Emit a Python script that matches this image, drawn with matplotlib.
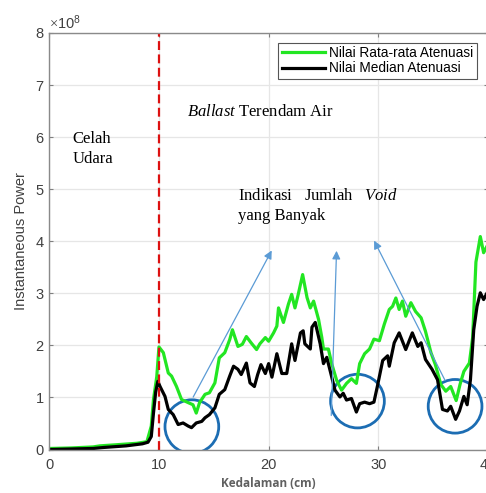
import numpy as np
import matplotlib
matplotlib.use("Agg")
import matplotlib.pyplot as plt
from matplotlib.patches import Ellipse
from matplotlib.ticker import ScalarFormatter

plt.rcParams['font.family'] = ['Liberation Sans', 'DejaVu Sans']
plt.rcParams['mathtext.fontset'] = 'custom'
plt.rcParams['mathtext.rm'] = 'Liberation Serif'
plt.rcParams['mathtext.it'] = 'Liberation Serif:italic'

SCALE = 1e8

# mean attenuation (x in cm, y in units of 1e8)
x_mean = [0, 2, 4, 4.6, 6, 8, 8.9, 9.3, 9.5, 9.8, 10.0, 10.4, 10.85, 11.15, 11.6,
          12.06, 12.67, 13.1, 13.4, 13.7, 14.2, 14.6, 15.1, 15.5, 16.0, 16.45,
          16.7, 17.2, 17.6, 17.97, 18.4, 18.9, 19.2, 19.7, 20.0, 20.45, 20.75,
          20.9, 21.35, 21.8, 22.1, 22.4, 22.7, 23.1, 23.5, 23.8, 24.1, 24.55,
          24.85, 25.0, 25.45, 25.75, 26.2, 26.65, 27.1, 27.55, 28.0, 28.3, 28.75,
          29.2, 29.6, 30.1, 30.55, 31.0, 31.3, 31.6, 31.9, 32.2, 32.5, 32.97,
          33.4, 33.9, 34.3, 34.8, 35.2, 35.7, 36.15, 36.6, 37.1, 37.45, 37.8,
          38.3, 38.6, 38.9, 39.3, 39.6, 39.9]
y_mean = [0.02, 0.03, 0.05, 0.07, 0.09, 0.12, 0.15, 0.45, 0.96, 1.40, 1.97, 1.86,
          1.47, 1.41, 1.21, 0.96, 0.90, 0.86, 0.70, 0.90, 1.06, 1.09, 1.28, 1.76,
          1.86, 2.11, 2.30, 1.98, 2.02, 2.17, 2.05, 1.92, 2.03, 2.15, 2.08, 2.24,
          2.37, 2.72, 2.44, 2.79, 2.98, 2.72, 2.98, 3.36, 2.92, 2.72, 2.85, 2.50,
          2.15, 1.93, 1.93, 1.65, 1.33, 1.14, 1.27, 1.36, 1.27, 1.65, 1.84, 1.93,
          2.12, 2.09, 2.41, 2.69, 2.75, 2.91, 2.69, 2.85, 2.56, 2.82, 2.65, 2.53,
          2.27, 1.86, 1.63, 1.25, 1.12, 1.21, 0.94, 1.25, 1.50, 1.66, 2.15, 3.60,
          4.09, 3.78, 3.90]

# median attenuation
x_med = [0, 2, 4, 5, 7, 8.5, 9.0, 9.3, 9.5, 9.7, 9.9, 10.1, 10.55, 10.85, 11.3,
         11.75, 12.2, 12.67, 12.97, 13.4, 13.9, 14.2, 14.6, 15.1, 15.5, 16.0,
         16.45, 16.8, 17.2, 17.5, 17.97, 18.3, 18.7, 19.0, 19.3, 19.7, 20.0,
         20.3, 20.75, 21.2, 21.65, 22.1, 22.4, 22.9, 23.15, 23.3, 23.8, 23.95,
         24.25, 24.7, 25.0, 25.3, 25.6, 26.05, 26.5, 26.8, 27.1, 27.55, 28.0,
         28.3, 28.75, 29.2, 29.6, 29.9, 30.4, 30.85, 31.0, 31.45, 31.9, 32.5,
         33.1, 33.6, 33.9, 34.3, 34.9, 35.4, 35.85, 36.3, 36.6, 37.05, 37.4,
         37.8, 38.1, 38.4, 38.7, 39.0, 39.3, 39.6, 39.9]
y_med = [0.0, 0.01, 0.02, 0.04, 0.07, 0.11, 0.14, 0.25, 0.70, 1.10, 1.31, 1.21,
         1.02, 0.77, 0.67, 0.48, 0.51, 0.45, 0.42, 0.51, 0.54, 0.61, 0.67, 0.80,
         1.06, 1.15, 1.41, 1.60, 1.54, 1.44, 1.66, 1.28, 1.21, 1.44, 1.63, 1.46,
         1.65, 1.39, 1.84, 1.46, 1.46, 2.03, 1.71, 2.24, 2.28, 2.03, 1.93, 2.35,
         2.44, 2.03, 1.65, 1.77, 1.52, 1.14, 1.01, 1.08, 0.95, 0.98, 0.72, 0.88,
         0.91, 0.88, 0.91, 1.20, 1.71, 1.80, 1.60, 2.05, 2.24, 1.92, 2.24, 1.98,
         2.05, 1.73, 1.54, 1.34, 0.77, 0.74, 0.83, 0.58, 0.74, 1.02, 0.86, 1.34,
         2.30, 2.75, 3.01, 2.88, 3.00]

# circled void regions (centre x, centre y)
void_x = [13.0, 28.1, 37.0]
void_y = [0.44, 0.93, 0.83]

fig = plt.figure(figsize=(4.86, 4.93), dpi=100)
ax = fig.add_axes([0.1014, 0.0882, 0.9027, 0.8449])

ax.plot(x_mean, np.array(y_mean) * SCALE, color='#22e622', lw=2.3,
        label='Nilai Rata-rata Atenuasi')
ax.plot(x_med, np.array(y_med) * SCALE, color='black', lw=2.3,
        label='Nilai Median Atenuasi')

ax.axvline(10, color='#dd1111', ls=(0, (4, 2)), lw=1.6)

for cx, cy in zip(void_x, void_y):
    ax.add_patch(Ellipse((cx, cy * SCALE), 4.9, 1.03 * SCALE, fill=False,
                         edgecolor='#1c6db3', lw=2.0))

arrow = dict(arrowstyle='-|>', color='#5b9bd5', lw=0.9, mutation_scale=12)
ax.annotate('', xy=(20.4, 3.87 * SCALE), xytext=(13.0, 0.96 * SCALE), arrowprops=arrow)
ax.annotate('', xy=(26.2, 3.87 * SCALE), xytext=(25.7, 0.60 * SCALE), arrowprops=arrow)
ax.annotate('', xy=(29.5, 4.06 * SCALE), xytext=(36.2, 1.28 * SCALE), arrowprops=arrow)

serif = dict(family='Liberation Serif', fontsize=12, color='black')
ax.text(2.1, 6.12 * SCALE, 'Celah\nUdara', va='top', ha='left', linespacing=1.35, **serif)
ax.text(12.6, 6.49 * SCALE, r'$\mathit{Ballast}$ Terendam Air', va='center', ha='left', **serif)
ax.text(17.2, 5.02 * SCALE, 'Indikasi   Jumlah   $\\mathit{Void}$\nyang Banyak',
        va='top', ha='left', linespacing=1.3, **serif)

ax.set_xlim(0, 40)
ax.set_ylim(0, 8 * SCALE)
ax.set_xticks([0, 10, 20, 30, 40])
ax.set_yticks(np.arange(0, 9) * SCALE)

fmt = ScalarFormatter(useMathText=True)
fmt.set_powerlimits((0, 0))
ax.yaxis.set_major_formatter(fmt)
ax.yaxis.get_offset_text().set_color('#707070')
ax.yaxis.get_offset_text().set_fontsize(10.5)

ax.grid(True, color='#e6e6e6', lw=0.9)
ax.set_axisbelow(True)
ax.tick_params(direction='in', top=True, right=True, length=3, color='#808080',
               labelsize=10.5, labelcolor='#404040')
ax.tick_params(axis='x', pad=6)
for s in ax.spines.values():
    s.set_color('#8a8a8a')
    s.set_linewidth(1.0)

ax.set_ylabel('Instantaneous Power', fontsize=10.5, color='#404040', labelpad=5)
ax.set_xlabel('Kedalaman (cm)', fontsize=8.5, color='#606060', fontweight='bold',
              family='Open Sans', labelpad=4)

leg = ax.legend(loc='upper right', bbox_to_anchor=(0.975, 0.977), fontsize=9.8,
                fancybox=False, framealpha=1, edgecolor='#555555', handlelength=3.2,
                borderpad=0.25, labelspacing=0.1, handletextpad=0.3, borderaxespad=0)
leg.get_frame().set_linewidth(0.8)

fig.savefig('out.png', dpi=100)
